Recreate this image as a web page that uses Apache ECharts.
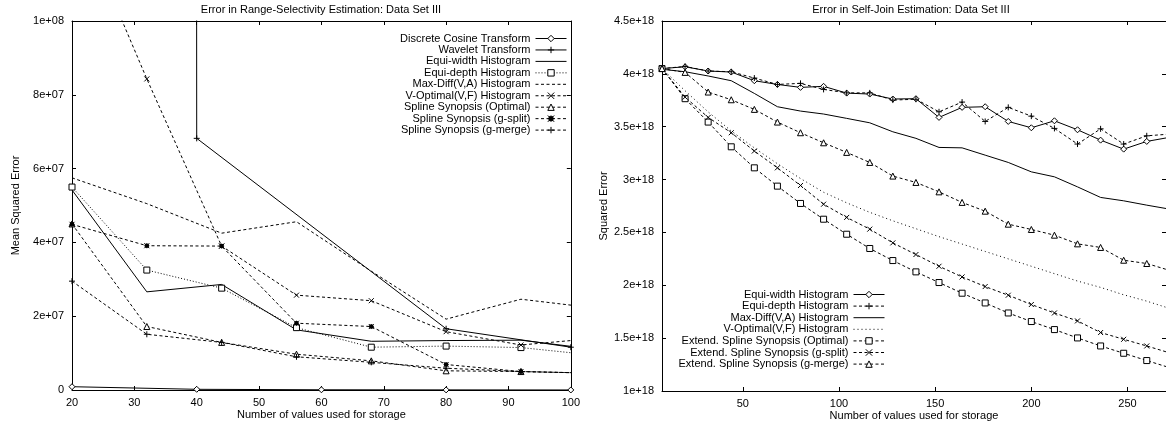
<!DOCTYPE html>
<html>
<head>
<meta charset="utf-8">
<script src="https://cdn.jsdelivr.net/npm/echarts@6/dist/echarts.min.js"></script>
<style>
  html, body { margin: 0; padding: 0; background: #fff; }
  #wrap { position: relative; width: 1166px; height: 428px; overflow: hidden; }
  .panel { position: absolute; top: 0; width: 583px; height: 428px; }
</style>
</head>
<body>
<div id="wrap">
  <div id="rs" class="panel" style="left:0"></div>
  <div id="sj" class="panel" style="left:583px"></div>
</div>
<script>
// ---------- Range-selectivity panel (left) ----------
const rsSizes = [20, 32, 44, 56, 68, 80, 92, 104];
const rsDctSizes = [20, 40, 60, 80, 100];
const rsWaveletSizes = [20, 40, 80, 100];
const rsDct = [8.9e5, 1.9e5, 0.6e5, 0.3e5, 0.1e5];
const rsWavelet = [5e10, 6.82e7, 1.66e7, 1.16e7];
const rsEquiWidth = [5.42e7, 2.66e7, 2.86e7, 1.63e7, 1.32e7, 1.34e7, 1.35e7, 1.10e7];
const rsEquiDepth = [5.50e7, 3.25e7, 2.76e7, 1.69e7, 1.16e7, 1.19e7, 1.15e7, 0.94e7];
const rsMaxDiff = [5.75e7, 5.05e7, 4.25e7, 4.56e7, 3.22e7, 1.92e7, 2.46e7, 2.22e7];
const rsVOptimal = [1.32e8, 8.43e7, 3.90e7, 2.57e7, 2.42e7, 1.58e7, 1.22e7, 1.40e7];
const rsSplineOpt = [4.50e7, 1.72e7, 1.29e7, 9.7e6, 7.9e6, 5.2e6, 5.0e6, 4.55e6];
const rsSplineSplit = [4.49e7, 3.91e7, 3.90e7, 1.81e7, 1.72e7, 6.9e6, 5.0e6, 4.55e6];
const rsSplineMerge = [2.95e7, 1.51e7, 1.29e7, 9.0e6, 7.5e6, 5.9e6, 5.0e6, 4.55e6];
const rsXTicks = [20, 30, 40, 50, 60, 70, 80, 90, 100];
const rsYTicks = [0, 2e7, 4e7, 6e7, 8e7, 1e8];
const rsYTickLabels = ['0', '2e+07', '4e+07', '6e+07', '8e+07', '1e+08'];

// ---------- Self-join panel (right) ----------
const sjSizes = [8, 20, 32, 44, 56, 68, 80, 92, 104, 116, 128, 140, 152, 164, 176, 188, 200, 212, 224, 236, 248, 260, 272];
const sjEquiWidth = [4.050e18, 4.067e18, 4.027e18, 4.017e18, 3.935e18, 3.900e18, 3.872e18, 3.882e18, 3.818e18, 3.809e18, 3.762e18, 3.765e18, 3.588e18, 3.683e18, 3.689e18, 3.550e18, 3.490e18, 3.556e18, 3.471e18, 3.373e18, 3.288e18, 3.361e18, 3.400e18];
const sjEquiDepth = [4.050e18, 4.070e18, 4.027e18, 4.020e18, 3.960e18, 3.900e18, 3.910e18, 3.853e18, 3.820e18, 3.820e18, 3.752e18, 3.760e18, 3.641e18, 3.733e18, 3.550e18, 3.683e18, 3.600e18, 3.484e18, 3.336e18, 3.480e18, 3.336e18, 3.414e18, 3.430e18];
const sjMaxDiff = [4.043e18, 4.020e18, 3.980e18, 3.935e18, 3.815e18, 3.689e18, 3.648e18, 3.620e18, 3.579e18, 3.537e18, 3.452e18, 3.390e18, 3.304e18, 3.300e18, 3.231e18, 3.162e18, 3.073e18, 3.026e18, 2.931e18, 2.831e18, 2.799e18, 2.758e18, 2.720e18];
const sjVOptimal = [4.05e18, 3.84e18, 3.64e18, 3.46e18, 3.30e18, 3.15e18, 3.01e18, 2.88e18, 2.78e18, 2.69e18, 2.61e18, 2.535e18, 2.46e18, 2.39e18, 2.32e18, 2.25e18, 2.18e18, 2.11e18, 2.04e18, 1.98e18, 1.91e18, 1.85e18, 1.78e18];
const sjSplineOpt = [4.050e18, 3.765e18, 3.544e18, 3.310e18, 3.111e18, 2.938e18, 2.774e18, 2.625e18, 2.483e18, 2.348e18, 2.234e18, 2.127e18, 2.026e18, 1.925e18, 1.833e18, 1.738e18, 1.657e18, 1.581e18, 1.502e18, 1.426e18, 1.357e18, 1.288e18, 1.220e18];
const sjSplineSplit = [4.050e18, 3.780e18, 3.588e18, 3.443e18, 3.270e18, 3.111e18, 2.944e18, 2.767e18, 2.642e18, 2.531e18, 2.401e18, 2.291e18, 2.180e18, 2.079e18, 1.988e18, 1.906e18, 1.818e18, 1.738e18, 1.663e18, 1.553e18, 1.489e18, 1.426e18, 1.360e18];
const sjSplineMerge = [4.050e18, 4.014e18, 3.828e18, 3.755e18, 3.664e18, 3.544e18, 3.443e18, 3.348e18, 3.257e18, 3.162e18, 3.033e18, 2.973e18, 2.884e18, 2.784e18, 2.701e18, 2.578e18, 2.528e18, 2.474e18, 2.392e18, 2.358e18, 2.237e18, 2.206e18, 2.140e18];
const sjXTicks = [50, 100, 150, 200, 250];
const sjYTicks = [1e18, 1.5e18, 2e18, 2.5e18, 3e18, 3.5e18, 4e18, 4.5e18];
const sjYTickLabels = ['1e+18', '1.5e+18', '2e+18', '2.5e+18', '3e+18', '3.5e+18', '4e+18', '4.5e+18'];

// ---------- shared styling ----------
const FONT = '"Liberation Sans", Arial, Helvetica, sans-serif';
const TXT = { fontFamily: FONT, fontSize: 11, color: '#000' };
const DASH = [3, 2.5];
const DOT = [1, 2];
const SYM = {
  diamond: 'diamond',
  plus: 'path://M0,5L10,5M5,0L5,10',
  cross: 'path://M0,0L10,10M10,0L0,10',
  square: 'rect',
  triangle: 'triangle',
  star: 'path://M0,0L10,10M10,0L0,10M5,0L5,10M0,5L10,5M2,2L8,2L8,8L2,8Z'
};

function line(name, xs, ys, dash, symbol, size, fill) {
  return {
    name: name,
    type: 'line',
    data: xs.map((x, i) => [x, ys[i]]),
    symbol: symbol || 'none',
    symbolSize: size || 6,
    showSymbol: !!symbol,
    clip: true,
    silent: true,
    animation: false,
    emphasis: { disabled: true },
    lineStyle: { color: '#000', width: 1, type: dash },
    itemStyle: { color: fill || '#fff', borderColor: '#000', borderWidth: 1 }
  };
}

function axisPair(dir, min, max, ticks, labelFn, name, nameGap) {
  const base = {
    type: 'value', min: min, max: max, scale: true,
    splitLine: { show: false },
    axisLine: { show: true, onZero: false, lineStyle: { color: '#000', width: 1 } },
    axisTick: { show: true, inside: true, length: 4, customValues: ticks, lineStyle: { color: '#000', width: 1 } }
  };
  const main = Object.assign({}, base, {
    position: dir === 'x' ? 'bottom' : 'left',
    axisLabel: Object.assign({ customValues: ticks, formatter: labelFn, margin: dir === 'x' ? 7 : 8 }, TXT),
    name: name, nameLocation: 'middle', nameGap: nameGap, nameMoveOverlap: false,
    nameRotate: dir === 'x' ? 0 : 90,
    nameTextStyle: Object.assign({}, TXT)
  });
  const mirror = Object.assign({}, base, {
    position: dir === 'x' ? 'top' : 'right',
    axisLabel: { show: false, customValues: ticks }
  });
  return [main, mirror];
}

// one legend block per entry so that every label is right-aligned against its sample
function legends(names, plain, right, top0, step) {
  return names.map((n, i) => ({
    data: [plain.indexOf(n) >= 0 ? { name: n, itemStyle: { opacity: 0 } } : n],
    orient: 'vertical',
    align: 'right',
    right: right,
    top: top0 + i * step,
    padding: 0,
    itemGap: 0,
    itemWidth: 31,
    itemHeight: 8,
    selectedMode: false,
    lineStyle: { width: 1 },
    itemStyle: { borderWidth: 1 },
    textStyle: Object.assign({}, TXT)
  }));
}

// ---------- left chart ----------
const rsNames = ['Discrete Cosine Transform', 'Wavelet Transform', 'Equi-width Histogram', 'Equi-depth Histogram',
  'Max-Diff(V,A) Histogram', 'V-Optimal(V,F) Histogram', 'Spline Synopsis (Optimal)', 'Spline Synopsis (g-split)',
  'Spline Synopsis (g-merge)'];
const rsChart = echarts.init(document.getElementById('rs'), null, { renderer: 'canvas' });
rsChart.setOption({
  animation: false,
  backgroundColor: '#fff',
  title: { text: 'Error in Range-Selectivity Estimation: Data Set III', left: 321, top: 4, padding: 0,
    textAlign: 'center', textStyle: Object.assign({ fontWeight: 'normal' }, TXT) },
  grid: { left: 72, top: 21, width: 507, height: 369 },
  xAxis: axisPair('x', 20, 100, rsXTicks, v => String(v), 'Number of values used for storage', 19),
  yAxis: axisPair('y', 0, 1e8, rsYTicks, v => rsYTickLabels[rsYTicks.indexOf(v)] || '', 'Mean Squared Error', 51),
  legend: legends(rsNames, [rsNames[2], rsNames[4]], 16, 33, 11.45),
  series: [
    line(rsNames[0], rsDctSizes, rsDct, 'solid', SYM.diamond, 6, '#fff'),
    line(rsNames[1], rsWaveletSizes, rsWavelet, 'solid', SYM.plus, 6, '#000'),
    line(rsNames[2], rsSizes, rsEquiWidth, 'solid', null),
    line(rsNames[3], rsSizes, rsEquiDepth, DOT, SYM.square, 6, '#fff'),
    line(rsNames[4], rsSizes, rsMaxDiff, DASH, null),
    line(rsNames[5], rsSizes, rsVOptimal, DASH, SYM.cross, 5, '#000'),
    line(rsNames[6], rsSizes, rsSplineOpt, DASH, SYM.triangle, 6, '#fff'),
    line(rsNames[7], rsSizes, rsSplineSplit, DASH, SYM.star, 5, '#000'),
    line(rsNames[8], rsSizes, rsSplineMerge, DASH, SYM.plus, 6, '#000')
  ]
});

// ---------- right chart ----------
const sjNames = ['Equi-width Histogram', 'Equi-depth Histogram', 'Max-Diff(V,A) Histogram', 'V-Optimal(V,F) Histogram',
  'Extend. Spline Synopsis (Optimal)', 'Extend. Spline Synopsis (g-split)', 'Extend. Spline Synopsis (g-merge)'];
const sjChart = echarts.init(document.getElementById('sj'), null, { renderer: 'canvas' });
sjChart.setOption({
  animation: false,
  backgroundColor: '#fff',
  title: { text: 'Error in Self-Join Estimation: Data Set III', left: 328, top: 4, padding: 0,
    textAlign: 'center', textStyle: Object.assign({ fontWeight: 'normal' }, TXT) },
  grid: { left: 79, top: 21, right: -1, bottom: 37 },
  xAxis: axisPair('x', 8, 270, sjXTicks, v => String(v), 'Number of values used for storage', 19),
  yAxis: axisPair('y', 1e18, 4.5e18, sjYTicks, v => sjYTickLabels[sjYTicks.indexOf(v)] || '', 'Squared Error', 53),
  legend: legends(sjNames, [sjNames[2], sjNames[3]], 281, 289, 11.6),
  series: [
    line(sjNames[0], sjSizes, sjEquiWidth, 'solid', SYM.diamond, 6, '#fff'),
    line(sjNames[1], sjSizes, sjEquiDepth, DASH, SYM.plus, 6, '#000'),
    line(sjNames[2], sjSizes, sjMaxDiff, 'solid', null),
    line(sjNames[3], sjSizes, sjVOptimal, [1, 3], null),
    line(sjNames[4], sjSizes, sjSplineOpt, DASH, SYM.square, 6, '#fff'),
    line(sjNames[5], sjSizes, sjSplineSplit, DASH, SYM.cross, 5, '#000'),
    line(sjNames[6], sjSizes, sjSplineMerge, DASH, SYM.triangle, 6, '#fff')
  ]
});
</script>
</body>
</html>
